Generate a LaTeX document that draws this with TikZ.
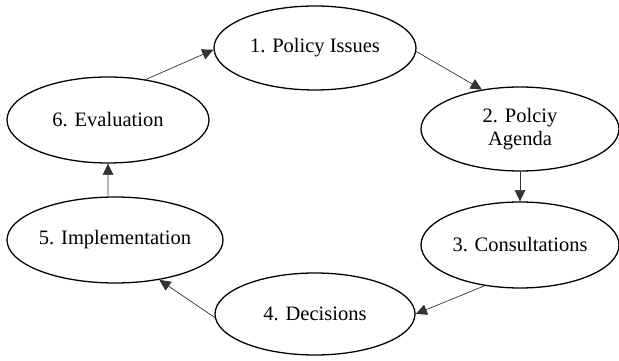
\documentclass[tikz,border=0pt]{standalone}
\usepackage{fontspec}
\setmainfont{Liberation Serif}
\usetikzlibrary{arrows.meta,shapes.geometric}

\begin{document}
\begin{tikzpicture}[
  x=1cm,
  y=1cm,
  >={Triangle[length=0.34cm,width=0.32cm]},
  stage/.style={draw, ellipse, line width=1.1pt, align=center, inner sep=0pt,
    font=\fontsize{17.5}{19}\selectfont},
  link/.style={->, line width=0.6pt, draw=black!80}
]
  \useasboundingbox (0,0) rectangle (18.57,10.8);

  \node[stage, minimum width=6.06cm, minimum height=2.52cm] (s1) at (9.45, 9.36) {1. Policy Issues};
  \node[stage, minimum width=5.94cm, minimum height=2.52cm] (s2) at (15.6, 6.93) {2. Polciy\\Agenda};
  \node[stage, minimum width=5.94cm, minimum height=2.58cm] (s3) at (15.6, 3.45) {3. Consultations};
  \node[stage, minimum width=6.0cm, minimum height=2.46cm] (s4) at (9.45, 1.38) {4. Decisions};
  \node[stage, minimum width=6.48cm, minimum height=2.58cm] (s5) at (3.45, 3.6) {5. Implementation};
  \node[stage, minimum width=6.06cm, minimum height=2.58cm] (s6) at (3.24, 7.2) {6. Evaluation};

  \draw[link] (s6.47) -- (s1.181);
  \draw[link] (s1.-2) -- (s2.134);
  \draw[link] (s2.south) -- (s3.north);
  \draw[link] (s3.-131) -- (s4.east);
  \draw[link] (s4.182) -- (s5.-42);
  \draw[link] (s5.99) -- (s6.south);
\end{tikzpicture}
\end{document}
